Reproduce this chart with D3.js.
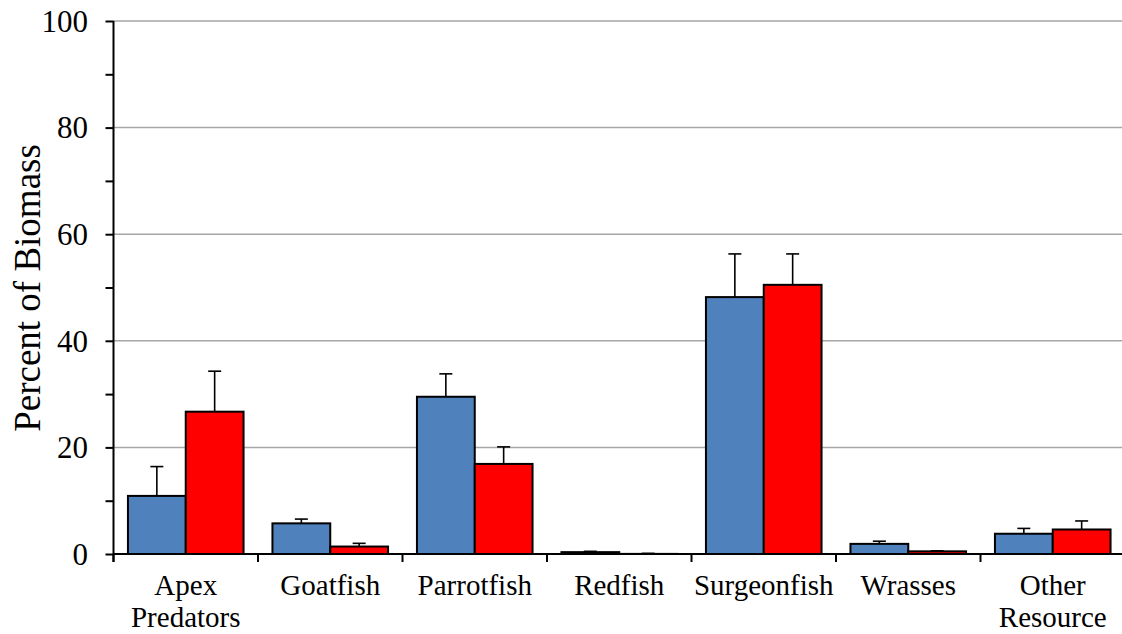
<!DOCTYPE html>
<html>
<head>
<meta charset="utf-8">
<script src="https://cdn.jsdelivr.net/npm/d3@7"></script>
<style>
  html, body { margin: 0; padding: 0; background: #fff; }
  svg { display: block; }
  text { font-family: "Liberation Serif", "Times New Roman", serif; fill: #000; }
</style>
</head>
<body>
<svg id="chart" width="1122" height="634"></svg>
<script>
// Fish group biomass composition (percent), two survey groups with SE bars
const categories = ["Apex Predators", "Goatfish", "Parrotfish", "Redfish", "Surgeonfish", "Wrasses", "Other Resource"];
const seriesNames = ["Blue", "Red"];
const blueValues = [10.9, 5.75, 29.5, 0.35, 48.2, 1.9, 3.8];
const blueErrors = [5.5, 0.8, 4.3, 0.15, 8.1, 0.5, 1.0];
const redValues  = [26.7, 1.4, 16.9, 0.02, 50.5, 0.5, 4.6];
const redErrors  = [7.6, 0.6, 3.2, 0.1, 5.8, 0.1, 1.6];
const yTicks = [0, 20, 40, 60, 80, 100];
const yMinorTicks = [0, 10, 20, 30, 40, 50, 60, 70, 80, 90, 100];
const yTitle = "Percent of Biomass";

const colors = { Blue: "#4F81BD", Red: "#FF0000" };

const svg = d3.select("#chart");
const W = 1122;
const plotLeft = 113.5, plotBottom = 554, plotTop = 21;

const x = d3.scaleBand().domain(categories).range([plotLeft, plotLeft + 7 * 144.5]).paddingInner(0).paddingOuter(0);
const x1 = d3.scaleBand().domain(seriesNames).range([0, x.bandwidth()]).paddingInner(0).paddingOuter(0.25);
const y = d3.scaleLinear().domain([0, 100]).range([plotBottom, plotTop]);

// Horizontal gridlines
svg.append("g").selectAll("line").data(yTicks.filter(d => d > 0)).join("line")
  .attr("x1", plotLeft).attr("x2", W)
  .attr("y1", d => y(d)).attr("y2", d => y(d))
  .attr("stroke", "#a6a6a6").attr("stroke-width", 1.5);

// Bars
const rows = categories.map((c, i) => [
  { cat: c, s: "Blue", v: blueValues[i], e: blueErrors[i] },
  { cat: c, s: "Red", v: redValues[i], e: redErrors[i] }
]).flat();

const gBars = svg.append("g");
gBars.selectAll("rect").data(rows).join("rect")
  .attr("x", d => x(d.cat) + x1(d.s))
  .attr("y", d => y(d.v))
  .attr("width", x1.bandwidth())
  .attr("height", d => y(0) - y(d.v))
  .attr("fill", d => colors[d.s])
  .attr("stroke", "#000").attr("stroke-width", 2);

// Error bars (upper only)
const gErr = svg.append("g").attr("stroke", "#000").attr("stroke-width", 1.6);
rows.forEach(d => {
  const cx = x(d.cat) + x1(d.s) + x1.bandwidth() / 2;
  gErr.append("line").attr("x1", cx).attr("x2", cx).attr("y1", y(d.v)).attr("y2", y(d.v + d.e));
  gErr.append("line").attr("x1", cx - 6.5).attr("x2", cx + 6.5).attr("y1", y(d.v + d.e)).attr("y2", y(d.v + d.e));
});

// Y axis
const yAxis = d3.axisLeft(y).tickValues(yMinorTicks).tickSize(8).tickFormat("");
const gy = svg.append("g").attr("transform", `translate(${plotLeft},0)`).call(yAxis);
gy.select(".domain").remove();
gy.selectAll(".tick line").attr("stroke", "#000").attr("stroke-width", 2);
svg.append("line").attr("x1", plotLeft).attr("x2", plotLeft).attr("y1", plotTop).attr("y2", plotBottom + 8)
  .attr("stroke", "#000").attr("stroke-width", 2);

svg.append("g").selectAll("text").data(yTicks).join("text")
  .attr("x", 88).attr("y", d => y(d)).attr("dy", "0.35em")
  .attr("text-anchor", "end").attr("font-size", 31)
  .text(d => d);

// X axis baseline and category boundary ticks
svg.append("line").attr("x1", plotLeft).attr("x2", W).attr("y1", plotBottom).attr("y2", plotBottom)
  .attr("stroke", "#000").attr("stroke-width", 2);
const bounds = categories.map(c => x(c)).concat([x(categories[categories.length - 1]) + x.bandwidth()]);
svg.append("g").selectAll("line").data(bounds).join("line")
  .attr("x1", d => d).attr("x2", d => d).attr("y1", plotBottom).attr("y2", plotBottom + 8)
  .attr("stroke", "#000").attr("stroke-width", 2);

// Category labels (wrapped onto two lines where needed)
const labelLines = { "Apex Predators": ["Apex", "Predators"], "Other Resource": ["Other", "Resource"] };
const gLab = svg.append("g");
categories.forEach(c => {
  const lines = labelLines[c] || [c];
  const t = gLab.append("text").attr("text-anchor", "middle").attr("font-size", 29)
    .attr("x", x(c) + x.bandwidth() / 2).attr("y", 595);
  lines.forEach((ln, i) => {
    t.append("tspan").attr("x", x(c) + x.bandwidth() / 2).attr("dy", i === 0 ? 0 : 32).text(ln);
  });
});

// Y axis title
svg.append("text")
  .attr("transform", "translate(40,288) rotate(-90)")
  .attr("text-anchor", "middle").attr("font-size", 37)
  .text(yTitle);
</script>
</body>
</html>
